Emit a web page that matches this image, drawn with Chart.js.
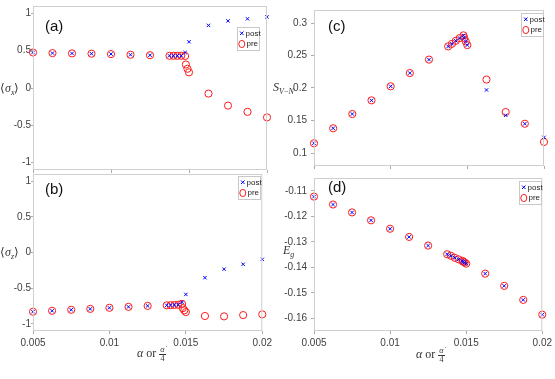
<!DOCTYPE html>
<html>
<head>
<meta charset="utf-8">
<script src="https://cdn.jsdelivr.net/npm/chart.js@4/dist/chart.umd.min.js"></script>
<style>
  body { margin: 0; background: #fff; }
  #wrap { position: relative; width: 555px; height: 379px; overflow: hidden; }
  canvas { position: absolute; }
  .tag { position: absolute; font: 15px 'Liberation Sans', Arial, sans-serif; color: #111; }
  .math { position: absolute; font: 12px 'Liberation Serif', 'Times New Roman', serif; color: #333; white-space: nowrap; }
  .math i { font-style: italic; }
  .math sub { font-size: 8px; vertical-align: -3px; }
  .frac { display: inline-block; vertical-align: middle; text-align: center; font-size: 8px; line-height: 8px; }
  .frac span { display: block; }
  .frac .top { border-bottom: 1px solid #333; padding: 0 1px; }
</style>
</head>
<body>
<div id="wrap">
  <canvas id="chartA" width="275" height="176" style="left:0;top:0"></canvas>
  <canvas id="chartC" width="280" height="176" style="left:275px;top:0"></canvas>
  <canvas id="chartB" width="275" height="211" style="left:0;top:168px"></canvas>
  <canvas id="chartD" width="280" height="211" style="left:275px;top:168px"></canvas>

  <div class="tag" style="left:45px;top:17px">(a)</div>
  <div class="tag" style="left:45px;top:180px">(b)</div>
  <div class="tag" style="left:328px;top:17px">(c)</div>
  <div class="tag" style="left:328px;top:178px">(d)</div>

  <div class="math" style="left:0;top:81px">⟨<i>σ</i><sub><i>x</i></sub>⟩</div>
  <div class="math" style="left:0;top:245px">⟨<i>σ</i><sub><i>z</i></sub>⟩</div>
  <div class="math" style="left:273px;top:80px"><i>S</i><sub><i>V</i>−<i>N</i></sub></div>
  <div class="math" style="left:283px;top:243px"><i>E</i><sub><i>g</i></sub></div>

  <div class="math" style="left:137px;top:346px"><i>α</i> or <span class="frac"><span class="top"><i>α̇</i></span><span>4</span></span></div>
  <div class="math" style="left:416px;top:347px"><i>α</i> or <span class="frac"><span class="top"><i>α̇</i></span><span>4</span></span></div>
</div>

<script>
'use strict';

// ************* data *************

let xVals = [0.005, 0.00625, 0.0075, 0.00875, 0.01, 0.01125, 0.0125, 0.01375, 0.014, 0.01425,
  0.0145, 0.01475, 0.0148, 0.0149, 0.015, 0.01625, 0.0175, 0.01875, 0.02];

// (a) <sigma_x>
let sxPost = [0.476, 0.468, 0.464, 0.46, 0.455, 0.446, 0.44, 0.432, 0.432, 0.432,
  0.432, 0.476, null, null, 0.62, 0.84, 0.90, 0.928, 0.954];
let sxPre = [0.476, 0.468, 0.464, 0.46, 0.455, 0.446, 0.44, 0.432, 0.432, 0.432,
  0.432, 0.43, 0.315, 0.258, 0.21, -0.075, -0.236, -0.32, -0.394];

// (b) <sigma_z>
let szPost = [-0.83, -0.817, -0.803, -0.79, -0.775, -0.762, -0.748, -0.74, -0.738, -0.735,
  -0.732, -0.697, null, null, -0.587, -0.353, -0.234, -0.165, -0.096];
let szPre = [-0.83, -0.817, -0.803, -0.79, -0.775, -0.762, -0.748, -0.74, -0.738, -0.735,
  -0.732, -0.72, -0.78, -0.81, -0.835, -0.89, -0.895, -0.877, -0.867];

// (c) S_{V-N}
let svnPost = [0.115, 0.138, 0.160, 0.181, 0.2026, 0.223, 0.2437, 0.264, 0.268, 0.2726,
  0.2768, 0.281, 0.277, 0.2716, 0.266, 0.197, 0.158, 0.145, 0.124];
let svnPre = [0.115, 0.138, 0.160, 0.181, 0.2026, 0.223, 0.2437, 0.264, 0.268, 0.2726,
  0.2768, 0.281, 0.277, 0.2716, 0.266, 0.213, 0.163, 0.145, 0.117];

// (d) E_g
let egPost = [-0.1123, -0.1154, -0.1185, -0.1216, -0.1249, -0.1281, -0.1315, -0.1349, -0.1355, -0.1363,
  -0.1369, -0.1375, -0.1378, -0.1381, -0.1386, -0.1425, -0.1473, -0.1528, -0.1586];
let egPre = [-0.1123, -0.1154, -0.1185, -0.1216, -0.1249, -0.1281, -0.1315, -0.1349, -0.1355, -0.1363,
  -0.1369, -0.1375, -0.1378, -0.1381, -0.1386, -0.1425, -0.1473, -0.1528, -0.1586];

let xTicks = [0.005, 0.01, 0.015, 0.02];
let sxTicks = [-1, -0.5, 0, 0.5, 1];
let szTicks = [-1, -0.5, 0, 0.5, 1];
let svnTicks = [0.1, 0.15, 0.2, 0.25, 0.3];
let egTicks = [-0.16, -0.15, -0.14, -0.13, -0.12, -0.11];

const tickFont = { family: "'Liberation Sans Narrow', 'Liberation Sans', Arial, sans-serif", size: 10 };

// ************* helpers *************

function toPoints(arr) {
  let pts = [];
  for (let i = 0; i < xVals.length; i++) {
    if (arr[i] !== null) pts.push({ x: xVals[i], y: arr[i] });
  }
  return pts;
}

function fmt(v) {
  return String(+v.toFixed(4));
}

// box round the plot + the little legend box in the corner
const frameBox = {
  id: 'frameBox',
  afterDraw(chart, args, opts) {
    const ctx = chart.ctx;
    const a = chart.chartArea;
    ctx.save();
    ctx.strokeStyle = '#cfcfcf';
    ctx.lineWidth = 1;
    ctx.strokeRect(a.left + 0.5, a.top + 0.5, a.right - a.left - 1, a.bottom - a.top - 1);

    let w = 22, h = 23;
    let lx = Math.round(a.right - opts.right - w) + 0.5;
    let ly = Math.round(a.top + opts.top) + 0.5;
    ctx.fillStyle = '#fff';
    ctx.fillRect(lx, ly, w, h);
    ctx.strokeStyle = '#c8c8c8';
    ctx.strokeRect(lx, ly, w, h);

    // post marker
    ctx.strokeStyle = '#0000ff';
    ctx.beginPath();
    ctx.moveTo(lx + 2.5, ly + 4); ctx.lineTo(lx + 6, ly + 7.5);
    ctx.moveTo(lx + 6, ly + 4); ctx.lineTo(lx + 2.5, ly + 7.5);
    ctx.stroke();
    // pre marker
    ctx.strokeStyle = '#ff1a1a';
    ctx.beginPath();
    ctx.ellipse(lx + 4.3, ly + 16.5, 3, 3.6, 0, 0, Math.PI * 2);
    ctx.stroke();

    ctx.fillStyle = '#222';
    ctx.font = "8px 'Liberation Sans Narrow', 'Liberation Sans', Arial, sans-serif";
    ctx.textBaseline = 'middle';
    ctx.fillText(chart.data.datasets[0].label, lx + 8, ly + 6);
    ctx.fillText(chart.data.datasets[1].label, lx + 9, ly + 16.5);
    ctx.restore();
  }
};

function makePanel(id, post, pre, yMin, yMax, yTicks, o) {
  return new Chart(document.getElementById(id), {
    type: 'scatter',
    data: {
      datasets: [
        {
          label: 'post',
          data: toPoints(post),
          pointStyle: 'crossRot',
          pointRadius: 2.4,
          borderColor: '#0000ff',
          borderWidth: 1,
          clip: false
        },
        {
          label: 'pre',
          data: toPoints(pre),
          pointStyle: 'circle',
          pointRadius: 3.6,
          borderColor: '#ff1a1a',
          backgroundColor: 'rgba(0,0,0,0)',
          borderWidth: 1,
          clip: false
        }
      ]
    },
    options: {
      responsive: false,
      animation: false,
      events: [],
      layout: { padding: { top: 4, right: o.padRight, left: 0, bottom: 0 } },
      plugins: {
        legend: { display: false },
        tooltip: { enabled: false },
        frameBox: o.legend
      },
      scales: {
        x: {
          type: 'linear',
          min: 0.005,
          max: 0.02,
          afterBuildTicks: s => { s.ticks = xTicks.map(v => ({ value: v })); },
          afterFit: s => { s.height = o.xHeight; },
          border: { display: false },
          grid: { drawOnChartArea: false, tickLength: 3, color: '#aaa' },
          ticks: {
            maxRotation: 0,
            padding: 3,
            font: tickFont,
            color: '#404040',
            callback: v => (o.showX ? fmt(v) : '')
          }
        },
        y: {
          min: yMin,
          max: yMax,
          afterBuildTicks: s => { s.ticks = yTicks.map(v => ({ value: v })); },
          afterFit: s => { s.width = o.yWidth; },
          border: { display: false },
          grid: { drawOnChartArea: false, tickLength: o.yTickLen, color: '#aaa' },
          ticks: {
            padding: o.yPad,
            font: tickFont,
            color: '#404040',
            callback: v => fmt(v)
          }
        }
      }
    },
    plugins: [frameBox]
  });
}

// ************* panels *************

makePanel('chartA', sxPost, sxPre, -1.1, 1.1, sxTicks,
  { padRight: 8, xHeight: 4, yWidth: 33, yTickLen: 2, yPad: 0, showX: false, legend: { right: 8, top: 21 } });

makePanel('chartB', szPost, szPre, -1.1, 1.1, szTicks,
  { padRight: 8, xHeight: 48, yWidth: 33, yTickLen: 2, yPad: 0, showX: true, legend: { right: 2, top: 2 } });

makePanel('chartC', svnPost, svnPre, 0.08, 0.32, svnTicks,
  { padRight: 11, xHeight: 4, yWidth: 39, yTickLen: 3, yPad: 4, showX: false, legend: { right: 1, top: 3 } });

makePanel('chartD', egPost, egPre, -0.165, -0.105, egTicks,
  { padRight: 11, xHeight: 48, yWidth: 39, yTickLen: 3, yPad: 4, showX: true, legend: { right: 1, top: 3 } });
</script>
</body>
</html>
